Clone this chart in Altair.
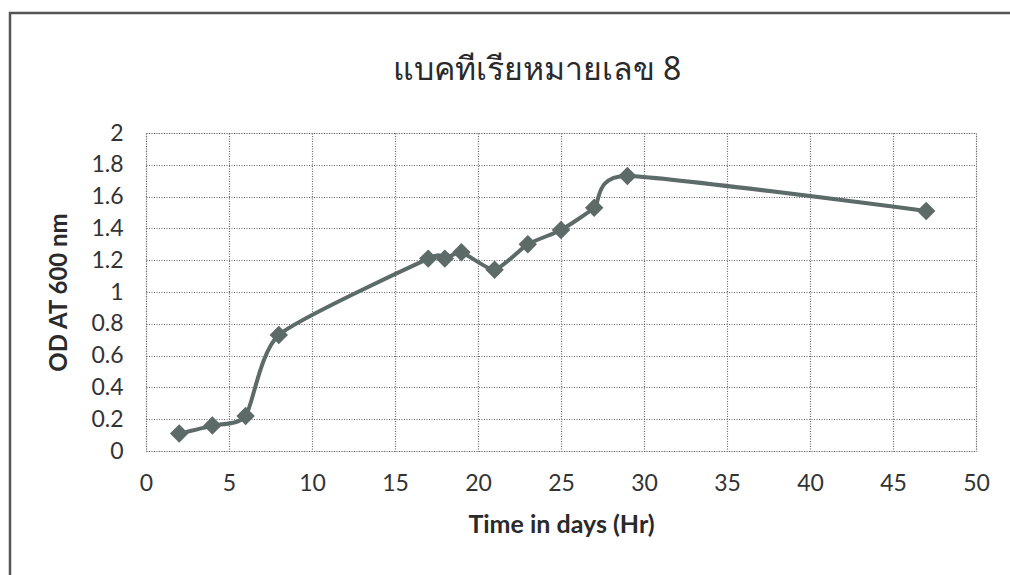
import altair as alt
import pandas as pd

# Growth curve of bacterium no. 8: optical density over time
time_hr = [2, 4, 6, 8, 17, 18, 19, 21, 23, 25, 27, 29, 47]
od_600 = [0.11, 0.16, 0.22, 0.73, 1.21, 1.21, 1.25, 1.14, 1.30, 1.39, 1.53, 1.73, 1.51]

x_ticks = [0, 5, 10, 15, 20, 25, 30, 35, 40, 45, 50]
y_ticks = [0, 0.2, 0.4, 0.6, 0.8, 1, 1.2, 1.4, 1.6, 1.8, 2]

chart_title = ["แบคทีเรียหมายเลข 8"]

df = pd.DataFrame({"time": time_hr, "od": od_600})

W, H = 830, 318
LINE_COLOR = "#5d6b68"
GRID_COLOR = "#666666"
TEXT_COLOR = "#2a2a2a"
FONT = "Lato"

x_enc = alt.X(
    "time:Q",
    scale=alt.Scale(domain=[0, 50], nice=False, zero=True),
    axis=alt.Axis(
        values=x_ticks,
        title="Time in days (Hr)",
        titleFont=FONT,
        titleFontSize=25,
        titleFontWeight="bold",
        titleColor=TEXT_COLOR,
        titlePadding=17,
        labelFont=FONT,
        labelFontSize=23,
        labelColor="#333333",
        labelPadding=21,
        labelOverlap=False,
        labelFlush=False,
        ticks=False,
        domain=False,
        grid=True,
        gridColor=GRID_COLOR,
        gridDash=[1, 1.5],
        gridWidth=1.2,
    ),
)
y_enc = alt.Y(
    "od:Q",
    scale=alt.Scale(domain=[0, 2], nice=False),
    axis=alt.Axis(
        values=y_ticks,
        tickCount=11,
        format="~g",
        title="OD AT 600 nm",
        titleFont=FONT,
        titleFontSize=24,
        titleFontWeight="bold",
        titleColor=TEXT_COLOR,
        titlePadding=19,
        labelFont=FONT,
        labelFontSize=23,
        labelColor="#333333",
        labelPadding=23,
        labelOverlap=False,
        labelFlush=False,
        labelBound=False,
        ticks=False,
        domain=False,
        grid=True,
        gridColor=GRID_COLOR,
        gridDash=[1, 1.5],
        gridWidth=1.2,
    ),
)

# smoothed connecting line (cardinal spline)
line = alt.Chart(df).mark_line(
    color=LINE_COLOR, strokeWidth=4, interpolate="cardinal", tension=0.4
).encode(x=x_enc, y=y_enc)

points = alt.Chart(df).mark_point(
    shape="diamond", filled=True, size=340, color=LINE_COLOR, opacity=1
).encode(x=x_enc, y=y_enc)

one_row = pd.DataFrame({"label": chart_title})

# outer chart frame
frame = alt.Chart(one_row).mark_rect(
    fill=None, stroke="#555555", strokeWidth=2.5
).encode(
    x=alt.value(-136), x2=alt.value(W + 120),
    y=alt.value(-120), y2=alt.value(H + 200),
)

# chart heading above the plot area
heading = alt.Chart(one_row).mark_text(
    font="Noto Sans", fontSize=32, color=TEXT_COLOR,
    align="center", baseline="alphabetic",
).encode(
    text="label:N", x=alt.value(391), y=alt.value(-53),
)

chart = alt.layer(frame, line, points, heading).properties(
    width=W,
    height=H,
    autosize=alt.AutoSizeParams(type="none"),
    padding={"left": 146, "top": 133, "right": 34, "bottom": 124},
).configure_view(
    stroke=GRID_COLOR, strokeDash=[1, 1.5], strokeWidth=1.2
).configure(background="white")

chart.save("out.html", embed_options={"renderer": "svg", "actions": False})
